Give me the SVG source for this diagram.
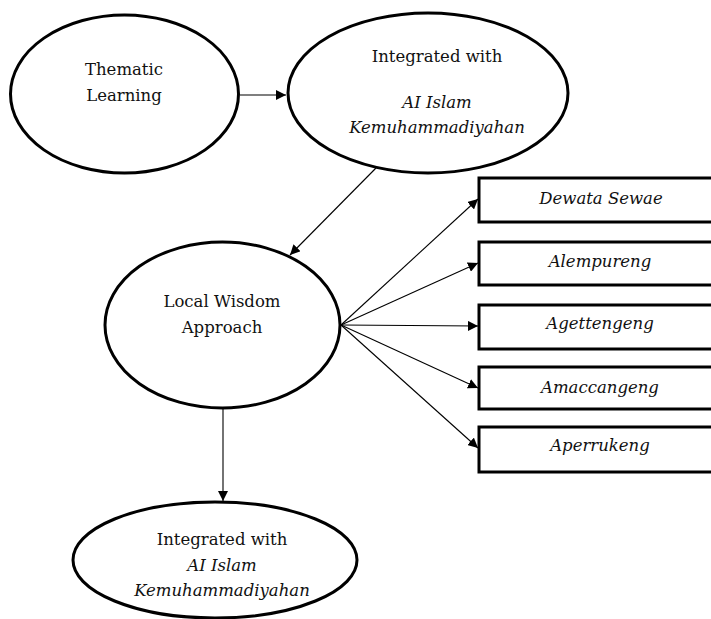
<svg xmlns="http://www.w3.org/2000/svg" width="711" height="619" viewBox="0 0 711 619">
<defs>
<marker id="ah" viewBox="0 0 10 10" refX="10" refY="5" markerWidth="10" markerHeight="10" markerUnits="userSpaceOnUse" orient="auto">
<path d="M0,0 L10,5 L0,10 z" fill="#000"/>
</marker>
<style>
.node{fill:#fff;stroke:#000;stroke-width:3}
.t{font-family:"DejaVu Serif","Liberation Serif",serif;font-size:16.5px;fill:#111;text-anchor:middle}
.i{font-style:italic}
.c{stroke:#000;stroke-width:1.1;fill:none;marker-end:url(#ah)}
</style>
</defs>
<rect width="711" height="619" fill="#fff"/>
<g id="connectors">
<line class="c" x1="240" y1="95" x2="286" y2="95"/>
<line class="c" x1="376" y1="168" x2="290" y2="255"/>
<line class="c" x1="223" y1="409" x2="223" y2="501"/>
<line class="c" x1="341" y1="325" x2="478" y2="199"/>
<line class="c" x1="341" y1="325" x2="478" y2="263"/>
<line class="c" x1="341" y1="325" x2="478" y2="326"/>
<line class="c" x1="341" y1="325" x2="478" y2="388"/>
<line class="c" x1="341" y1="325" x2="478" y2="448"/>
</g>
<g id="thematic">
<ellipse class="node" cx="124.5" cy="94" rx="114" ry="79"/>
<text class="t" x="124" y="75">Thematic</text>
<text class="t" x="124" y="101">Learning</text>
</g>
<g id="integrated-top">
<ellipse class="node" cx="428" cy="93" rx="140" ry="80"/>
<text class="t" x="437" y="62">Integrated with</text>
<text class="t i" x="437" y="108">AI Islam</text>
<text class="t i" x="437" y="133">Kemuhammadiyahan</text>
</g>
<g id="local-wisdom">
<ellipse class="node" cx="222.5" cy="325" rx="117.5" ry="83"/>
<text class="t" x="222" y="307">Local Wisdom</text>
<text class="t" x="222" y="333">Approach</text>
</g>
<g id="integrated-bottom">
<ellipse class="node" cx="215" cy="560" rx="142" ry="58"/>
<text class="t" x="222" y="545">Integrated with</text>
<text class="t i" x="222" y="571">AI Islam</text>
<text class="t i" x="222" y="596">Kemuhammadiyahan</text>
</g>
<g id="dewata-sewae">
<rect class="node" x="479" y="178" width="240" height="44"/>
<text class="t i" x="601" y="204">Dewata Sewae</text>
</g>
<g id="alempureng">
<rect class="node" x="479" y="242" width="240" height="43"/>
<text class="t i" x="600" y="267">Alempureng</text>
</g>
<g id="agettengeng">
<rect class="node" x="479" y="305" width="240" height="44"/>
<text class="t i" x="600" y="329">Agettengeng</text>
</g>
<g id="amaccangeng">
<rect class="node" x="479" y="367" width="240" height="42"/>
<text class="t i" x="600" y="393">Amaccangeng</text>
</g>
<g id="aperrukeng">
<rect class="node" x="479" y="427" width="240" height="45"/>
<text class="t i" x="600" y="451">Aperrukeng</text>
</g>
</svg>
